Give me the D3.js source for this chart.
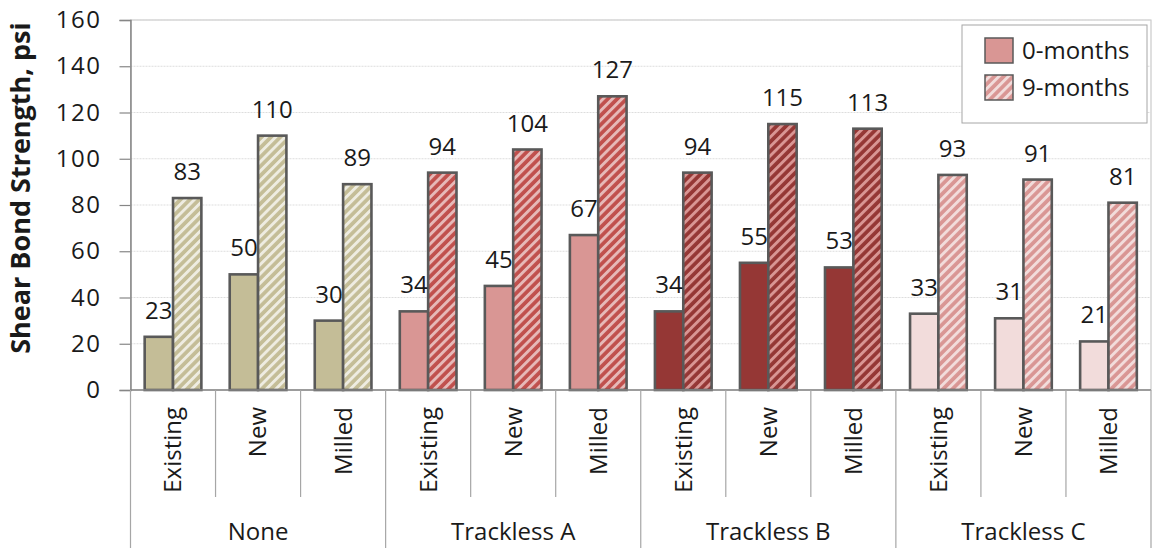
<!DOCTYPE html>
<html><head><meta charset="utf-8">
<script src="https://cdn.jsdelivr.net/npm/d3@7"></script>
<style>
html,body{margin:0;padding:0;background:#fff;}
svg{display:block;font-family:"Open Sans",sans-serif;}
</style></head>
<body><svg id="c" width="1153" height="548"></svg>
<script>
const groups = ["None", "Trackless A", "Trackless B", "Trackless C"];
const surfaces = ["Existing", "New", "Milled"];
const series = ["0-months", "9-months"];
const months0 = [23, 50, 30, 34, 45, 67, 34, 55, 53, 33, 31, 21];
const months9 = [83, 110, 89, 94, 104, 127, 94, 115, 113, 93, 91, 81];
const yTicks = [0, 20, 40, 60, 80, 100, 120, 140, 160];
const solidColors = ["#C4BD97", "#D99694", "#953735", "#F2DCDB"];
const hatchBg = ["#C4BD97", "#C0504D", "#953735", "#D99694"];
const hatchFg = ["#EEECE1", "#E6B9B8", "#D99694", "#F2DCDB"];

const svg = d3.select("#c");
const L = 130.5, R = 1151, T = 20, B = 390;
const cats = [];
groups.forEach((g, gi) => surfaces.forEach((s, si) => cats.push({g, gi, s, i: gi * 3 + si})));

const x = d3.scaleBand().domain(cats.map(d => d.i)).range([L, R]).padding(0);
const xs = d3.scaleBand().domain(series).range([0, x.bandwidth()]).paddingInner(0).paddingOuter(0.5);
const y = d3.scaleLinear().domain([0, 160]).range([B, T]);

// patterns
const defs = svg.append("defs");
function makePattern(id, bg, fg) {
  const p = defs.append("pattern").attr("id", id).attr("patternUnits", "userSpaceOnUse")
    .attr("width", 6.6).attr("height", 6.6).attr("patternTransform", "rotate(45)");
  p.append("rect").attr("width", 6.6).attr("height", 6.6).attr("fill", bg);
  p.append("rect").attr("x", 0).attr("width", 2.9).attr("height", 6.6).attr("fill", fg);
}
groups.forEach((g, gi) => makePattern("h" + gi, hatchBg[gi], hatchFg[gi]));
makePattern("hleg", "#D99694", "#F2DCDB");

// plot area border
svg.append("rect").attr("x", L).attr("y", T).attr("width", R - L).attr("height", B - T)
  .attr("fill", "none").attr("stroke", "#BFBFBF").attr("stroke-width", 1);

// gridlines
svg.append("g").selectAll("line").data(yTicks.filter(t => t > 0)).join("line")
  .attr("x1", L).attr("x2", R).attr("y1", d => y(d)).attr("y2", d => y(d))
  .attr("stroke", "#DDDDDD").attr("stroke-width", 1).attr("stroke-dasharray", "2,1");

// y axis
const ya = svg.append("g").attr("transform", `translate(${L},0)`)
  .call(d3.axisLeft(y).tickValues(yTicks).tickSize(11).tickPadding(18));
ya.select(".domain").attr("stroke", "#868686").attr("stroke-width", 1.5);
ya.selectAll(".tick line").attr("stroke", "#868686").attr("stroke-width", 1.2);
ya.selectAll(".tick text").attr("font-size", 24).attr("fill", "#1a1a1a").attr("font-family", "Open Sans")
  .attr("letter-spacing", 1.5);

// y title
svg.append("text").attr("transform", "translate(30,188) rotate(-90)").attr("text-anchor", "middle")
  .attr("font-weight", "bold").attr("font-size", 27).attr("fill", "#1a1a1a").text("Shear Bond Strength, psi");

// bars
const barData = [];
cats.forEach(c => {
  barData.push({c, s: series[0], v: months0[c.i], fill: solidColors[c.gi]});
  barData.push({c, s: series[1], v: months9[c.i], fill: `url(#h${c.gi})`});
});
svg.append("g").selectAll("rect").data(barData).join("rect")
  .attr("x", d => x(d.c.i) + xs(d.s)).attr("width", xs.bandwidth())
  .attr("y", d => y(d.v)).attr("height", d => y(0) - y(d.v))
  .attr("fill", d => d.fill).attr("stroke", "#595959").attr("stroke-width", 2.6);

// labels
svg.append("g").selectAll("text").data(barData).join("text")
  .attr("x", d => x(d.c.i) + xs(d.s) + xs.bandwidth() / 2)
  .attr("y", d => y(d.v) - 18).attr("text-anchor", "middle")
  .attr("font-size", 24).attr("fill", "#1a1a1a").text(d => d.v);

// category axis
svg.append("line").attr("x1", L).attr("x2", R).attr("y1", B).attr("y2", B)
  .attr("stroke", "#868686").attr("stroke-width", 1.5);
const bounds = d3.range(0, 13);
svg.append("g").selectAll("line").data(bounds).join("line")
  .attr("x1", i => i < 12 ? x(i) : R).attr("x2", i => i < 12 ? x(i) : R)
  .attr("y1", B).attr("y2", i => i % 3 === 0 ? 548 : 497)
  .attr("stroke", "#A6A6A6").attr("stroke-width", 1.2);

svg.append("g").selectAll("text").data(cats).join("text")
  .attr("transform", d => `translate(${x(d.i) + x.bandwidth() / 2},407) rotate(-90)`)
  .attr("text-anchor", "end").attr("dy", "0.35em")
  .attr("font-size", 24).attr("fill", "#1a1a1a").text(d => d.s);

svg.append("g").selectAll("text").data(groups).join("text")
  .attr("x", (g, gi) => (x(gi * 3) + (gi < 3 ? x(gi * 3 + 3) : R)) / 2)
  .attr("y", 532).attr("dy", "0.35em").attr("text-anchor", "middle")
  .attr("font-size", 24).attr("fill", "#1a1a1a").text(g => g);

// legend
const lg = svg.append("g");
lg.append("rect").attr("x", 962).attr("y", 25).attr("width", 185).attr("height", 98)
  .attr("fill", "#fff").attr("stroke", "#A6A6A6").attr("stroke-width", 1);
const legFills = ["#D99694", "url(#hleg)"];
series.forEach((s, i) => {
  lg.append("rect").attr("x", 985).attr("y", 38 + i * 37).attr("width", 28).attr("height", 25)
    .attr("fill", legFills[i]).attr("stroke", "#595959").attr("stroke-width", 1.5);
  lg.append("text").attr("x", 1022).attr("y", 51 + i * 37).attr("dy", "0.35em")
    .attr("font-size", 24).attr("fill", "#1a1a1a").text(s);
});
</script></body></html>
